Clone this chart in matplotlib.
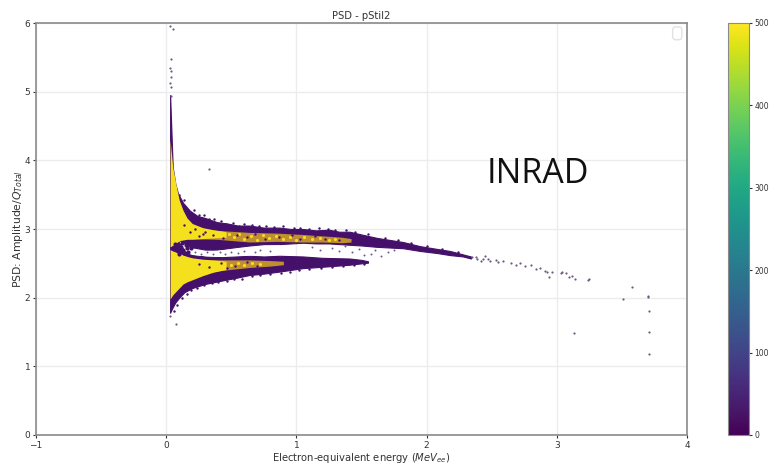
import matplotlib

matplotlib.use('agg')

import matplotlib.pyplot as plt
from matplotlib.cm import ScalarMappable
from matplotlib.colors import Normalize

# Band outlines (x in MeVee, y in Amplitude/Qtotal)
top_x = [0.03, 0.05, 0.07, 0.09, 0.13, 0.18, 0.24, 0.30, 0.39, 0.47, 0.55, 0.64, 0.75, 0.87, 0.96, 1.05, 1.15, 1.25, 1.33, 1.41, 1.50, 1.62, 1.72, 1.82, 1.95, 2.08, 2.18, 2.28, 2.34]
top_hi = [4.95, 3.90, 3.66, 3.52, 3.38, 3.27, 3.19, 3.16, 3.10, 3.08, 3.05, 3.05, 3.02, 3.02, 3.00, 3.00, 2.98, 2.99, 2.96, 2.96, 2.92, 2.87, 2.84, 2.81, 2.75, 2.71, 2.68, 2.63, 2.60]
top_lo = [3.00, 2.95, 2.90, 2.85, 2.80, 2.74, 2.72, 2.70, 2.70, 2.72, 2.74, 2.76, 2.78, 2.78, 2.79, 2.80, 2.79, 2.79, 2.78, 2.77, 2.76, 2.74, 2.73, 2.72, 2.68, 2.65, 2.62, 2.60, 2.57]

low_x = [0.03, 0.05, 0.07, 0.10, 0.14, 0.20, 0.30, 0.43, 0.54, 0.64, 0.75, 0.87, 1.05, 1.20, 1.41, 1.50, 1.55]
low_hi = [3.00, 2.95, 2.90, 2.80, 2.68, 2.62, 2.60, 2.59, 2.60, 2.61, 2.60, 2.61, 2.60, 2.58, 2.57, 2.55, 2.53]
low_lo = [1.78, 1.86, 1.93, 2.00, 2.08, 2.14, 2.20, 2.25, 2.29, 2.33, 2.35, 2.38, 2.43, 2.45, 2.48, 2.50, 2.51]

# Yellow parts on the left, each one tapering into its orange strip
core1_x = [0.03, 0.05, 0.08, 0.10, 0.13, 0.16, 0.20, 0.28, 0.36, 0.46]
core1_hi = [4.30, 3.90, 3.60, 3.42, 3.27, 3.16, 3.08, 3.02, 2.99, 2.96]
core1_lo = [2.74, 2.76, 2.80, 2.83, 2.84, 2.85, 2.85, 2.86, 2.87, 2.88]
core2_x = [0.03, 0.05, 0.08, 0.10, 0.13, 0.16, 0.20, 0.28, 0.36, 0.46]
core2_hi = [2.70, 2.68, 2.66, 2.65, 2.62, 2.60, 2.58, 2.56, 2.55, 2.53]
core2_lo = [1.98, 2.04, 2.10, 2.14, 2.20, 2.23, 2.26, 2.32, 2.37, 2.41]

# Orange strips where yellow and purple mix
strip1_x = [0.20, 0.39, 0.64, 0.85, 1.05, 1.20, 1.35, 1.42]
strip1_hi = [3.00, 2.98, 2.95, 2.94, 2.92, 2.90, 2.88, 2.86]
strip1_lo = [2.86, 2.85, 2.81, 2.82, 2.81, 2.81, 2.80, 2.81]
strip2_x = [0.20, 0.39, 0.64, 0.80, 0.90]
strip2_hi = [2.54, 2.55, 2.55, 2.54, 2.53]
strip2_lo = [2.30, 2.39, 2.44, 2.46, 2.48]

# White gap between the two bands
gap_x = [0.16, 0.20, 0.30, 0.39, 0.50, 0.64, 0.75, 0.87]
gap_hi = [2.66, 2.67, 2.68, 2.69, 2.71, 2.74, 2.76, 2.77]
gap_lo = [2.65, 2.63, 2.61, 2.60, 2.62, 2.62, 2.63, 2.63]

# Lone events
dots_x = [0.032, 0.049, 0.037, 0.032, 0.040, 0.035, 0.032, 0.040, 0.034, 0.327, 0.073, 0.030,
          2.350, 2.381, 2.432, 2.445, 2.484, 2.535, 2.548, 2.420, 2.390, 2.470,
          2.586, 2.650, 2.688, 2.714, 2.752, 2.804, 2.837, 2.868, 2.906, 2.924, 2.937, 2.960,
          3.034, 3.042, 3.072, 3.093, 3.118, 3.139, 3.239, 3.251, 3.129, 3.507, 3.576, 3.704,
          3.704, 3.707, 3.707, 3.707]
dots_y = [5.96, 5.91, 5.47, 5.34, 5.30, 5.22, 5.12, 5.07, 4.94, 3.87, 1.62, 1.73,
          2.590, 2.587, 2.558, 2.610, 2.539, 2.545, 2.524, 2.530, 2.560, 2.570,
          2.539, 2.500, 2.476, 2.500, 2.461, 2.476, 2.413, 2.427, 2.393, 2.374, 2.306, 2.374,
          2.354, 2.379, 2.364, 2.306, 2.316, 2.272, 2.257, 2.277, 1.481, 1.976, 2.150, 2.024,
          2.005, 1.806, 1.495, 1.175]

# Speckle left inside the gap and under the top band
speck_x = [0.22, 0.27, 0.31, 0.36, 0.41, 0.45, 0.50, 0.55, 0.60, 0.68, 0.72, 0.80, 1.12, 1.18, 1.27, 1.33, 1.37, 1.43, 1.48, 1.52, 1.57, 1.60, 1.65, 1.70, 1.75]
speck_y = [2.66, 2.64, 2.67, 2.63, 2.66, 2.64, 2.67, 2.65, 2.68, 2.66, 2.70, 2.68, 2.74, 2.70, 2.72, 2.68, 2.75, 2.66, 2.71, 2.62, 2.64, 2.70, 2.60, 2.66, 2.70]

# Purple fuzz outside the band edges
fuzz_x = [0.10, 0.14, 0.17, 0.21, 0.25, 0.29, 0.33, 0.37, 0.42, 0.46, 0.51, 0.56, 0.60, 0.66, 0.71, 0.77, 0.83, 0.90, 0.98, 1.03, 1.10, 1.17, 1.24, 1.30, 1.38, 1.45, 1.55, 1.68, 1.78, 1.88, 2.00, 2.12, 2.24,
          0.06, 0.08, 0.12, 0.16, 0.19, 0.24, 0.29, 0.35, 0.40, 0.47, 0.52, 0.58, 0.66, 0.72, 0.80, 0.88, 0.95, 1.02, 1.10, 1.19, 1.27, 1.36, 1.44, 1.52]
fuzz_y = [3.50, 3.42, 3.28, 3.27, 3.20, 3.20, 3.14, 3.15, 3.12, 3.07, 3.09, 3.05, 3.07, 3.06, 3.04, 3.04, 3.03, 3.04, 3.01, 3.02, 3.00, 3.01, 3.00, 2.98, 2.98, 2.95, 2.92, 2.87, 2.84, 2.80, 2.75, 2.71, 2.66,
          1.80, 1.90, 2.00, 2.06, 2.11, 2.14, 2.18, 2.21, 2.23, 2.25, 2.27, 2.27, 2.31, 2.33, 2.35, 2.36, 2.38, 2.40, 2.42, 2.43, 2.45, 2.46, 2.47, 2.49]

# Yellow grains in the orange strips
grain_x = [0.48, 0.52, 0.56, 0.60, 0.65, 0.70, 0.74, 0.79, 0.84, 0.90, 0.95, 1.00, 1.06, 1.12, 1.18, 1.25, 1.30, 0.50, 0.55, 0.60, 0.66, 0.72]
grain_y = [2.92, 2.88, 2.93, 2.86, 2.90, 2.84, 2.91, 2.87, 2.90, 2.85, 2.89, 2.84, 2.88, 2.85, 2.87, 2.84, 2.86, 2.47, 2.51, 2.48, 2.50, 2.49]

# Purple holes in the orange strips and the yellow
hole_x = [0.25, 0.30, 0.36, 0.44, 0.54, 0.62, 0.68, 0.76, 0.87, 0.97, 1.03, 1.14, 1.22, 1.33, 0.25, 0.33, 0.42, 0.47, 0.53, 0.62, 0.70, 0.14, 0.18, 0.22, 0.28]
hole_y = [2.90, 2.96, 2.91, 2.87, 2.91, 2.88, 2.93, 2.85, 2.88, 2.91, 2.86, 2.90, 2.86, 2.84, 2.49, 2.44, 2.50, 2.43, 2.46, 2.52, 2.46, 3.06, 2.96, 3.00, 2.93]

# Purple strip between the yellow parts, thick specks along it
mid_x = [0.05, 0.07, 0.09, 0.11, 0.13, 0.15, 0.17, 0.19, 0.08, 0.10, 0.12, 0.14, 0.16, 0.18]
mid_y = [2.72, 2.78, 2.68, 2.74, 2.70, 2.77, 2.66, 2.72, 2.72, 2.64, 2.80, 2.65, 2.72, 2.78]

xticks = [-1, 0, 1, 2, 3, 4]
yticks = [0, 1, 2, 3, 4, 5, 6]
cbar_ticks = [0, 100, 200, 300, 400, 500]

PURPLE = '#44106a'
YELLOW = '#f5e01e'
ORANGE = '#c09030'
SPECK = '#6b5a80'

fig = plt.figure(figsize=(7.7, 4.67), dpi=100)
ax = fig.add_axes([36 / 770, 32 / 467, 651 / 770, 412 / 467])

# Bands
ax.fill_between(top_x, top_lo, top_hi, color=PURPLE, lw=0.8, zorder=2)
ax.fill_between(low_x, low_lo, low_hi, color=PURPLE, lw=0.8, zorder=2)
ax.fill_between(gap_x, gap_lo, gap_hi, color='white', lw=0, zorder=3)
ax.fill_between(strip1_x, strip1_lo, strip1_hi, color=ORANGE, lw=0, zorder=4)
ax.fill_between(strip2_x, strip2_lo, strip2_hi, color=ORANGE, lw=0, zorder=4)
ax.fill_between(core1_x, core1_lo, core1_hi, color=YELLOW, lw=0, zorder=5)
ax.fill_between(core2_x, core2_lo, core2_hi, color=YELLOW, lw=0, zorder=5)

# Single events
ax.scatter(fuzz_x, fuzz_y, s=3, color=PURPLE, lw=0, zorder=3)
ax.scatter(grain_x, grain_y, s=5, color=YELLOW, lw=0, zorder=6)
ax.scatter(hole_x, hole_y, s=3, color=PURPLE, lw=0, zorder=6)
ax.scatter(mid_x, mid_y, s=9, color=PURPLE, lw=0, zorder=6)
ax.scatter(speck_x, speck_y, s=2, color=SPECK, lw=0, zorder=7)
ax.scatter(dots_x, dots_y, s=2.5, color=SPECK, lw=0, zorder=7)

ax.set_xlim(-1, 4)
ax.set_ylim(0, 6)
ax.set_xticks(xticks)
ax.set_yticks(yticks)
ax.grid(True, color='#ececec', lw=1)
ax.set_axisbelow(True)
ax.tick_params(labelsize=6.5, length=2, width=0.8, colors='#333333', pad=2)
for side in ax.spines:
    ax.spines[side].set_color('#8a8a8a')
    ax.spines[side].set_linewidth(1.2)

ax.set_title('PSD - pStil2', fontsize=7.2, color='#333333', pad=3)
ax.set_xlabel(r'Electron-equivalent energy ($MeV_{ee}$)', fontsize=7.2, color='#333333', labelpad=1)
ax.set_ylabel(r'PSD: Amplitude/$Q_{Total}$', fontsize=7.8, color='#333333', labelpad=0)

# Empty legend box, top right corner
ax.text(0.985, 0.975, ' ', transform=ax.transAxes, fontsize=5, ha='center', va='center',
        bbox=dict(boxstyle='round,pad=0.5', fc='white', ec='#e2e2e2', lw=1))

fig.text(538 / 770, 1 - 174 / 467, 'INRAD', fontsize=24.5, color='#111111', family='Open Sans',
         ha='center', va='center')

# Colorbar
cax = fig.add_axes([728 / 770, 32 / 467, 21 / 770, 412 / 467])
cb = fig.colorbar(ScalarMappable(Normalize(0, 500), 'viridis'), cax=cax, ticks=cbar_ticks)
cb.ax.tick_params(labelsize=5.5, length=2, width=0.8, colors='#333333', pad=2)
cb.outline.set_edgecolor('#8a8a8a')

fig.savefig('out.png', dpi=100)
